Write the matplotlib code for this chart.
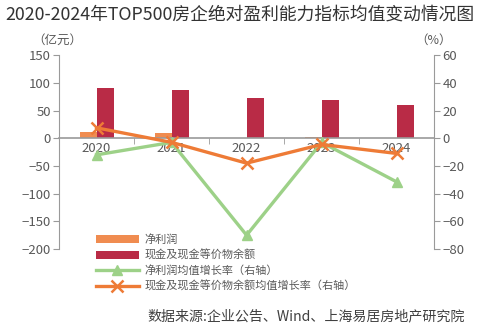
import matplotlib.pyplot as plt
from matplotlib.ticker import MultipleLocator, FixedLocator

plt.rcParams['font.family'] = ['Noto Sans CJK SC', 'DejaVu Sans']

# ===== Data =====
tahun = ["2020", "2021", "2022", "2023", "2024"]
laba_bersih = [11, 10, 1, 1.5, 0.5]              # 亿元
kas_setara = [91, 87, 72, 69, 60]                # 亿元
tumbuh_laba = [-12, -3, -70, -3, -31.5]          # %
tumbuh_kas = [7.5, -3, -18, -4.5, -11]           # %

C_LABA = "#F08C50"
C_KAS = "#B92B46"
C_G_LABA = "#9DD188"
C_G_KAS = "#EE7B36"
C_TEKS = "#595959"
C_GARIS = "#9A9A9A"

fig = plt.figure(figsize=(4.84, 3.26), dpi=100)
ax = fig.add_axes([0.122, 0.236, 0.775, 0.595])
ax2 = ax.twinx()

x = list(range(len(tahun)))
lebar = 0.227
ax.bar([i - lebar / 2 for i in x], laba_bersih, width=lebar, color=C_LABA, label="净利润", zorder=2)
ax.bar([i + lebar / 2 for i in x], kas_setara, width=lebar, color=C_KAS, label="现金及现金等价物余额", zorder=2)

ax2.plot(x, tumbuh_laba, color=C_G_LABA, lw=2.4, marker="^", ms=6.5,
         label="净利润均值增长率（右轴）", zorder=3)
ax2.plot(x, tumbuh_kas, color=C_G_KAS, lw=2.4, marker="x", ms=8, mew=1.8,
         label="现金及现金等价物余额均值增长率（右轴）", zorder=4)

# sumbu kiri dan kanan
ax.set_xlim(-0.5, 4.5)
ax.set_ylim(-200, 150)
ax.yaxis.set_major_locator(MultipleLocator(50))
ax2.set_ylim(-80, 60)
ax2.yaxis.set_major_locator(MultipleLocator(20))

for a in (ax, ax2):
    a.spines['top'].set_visible(False)
    a.set_facecolor('none')
ax.spines['right'].set_visible(False)
ax2.spines['bottom'].set_visible(False)
ax2.spines['left'].set_visible(False)
ax.spines['left'].set_color(C_GARIS)
ax2.spines['right'].set_color(C_GARIS)
ax.spines['bottom'].set_position(('data', 0))
ax.spines['bottom'].set_color(C_GARIS)
ax.spines['bottom'].set_linewidth(1.2)

ax.set_xticks(x)
ax.set_xticklabels(tahun)
ax.xaxis.set_minor_locator(FixedLocator([0.5, 1.5, 2.5, 3.5]))
ax.tick_params(axis='x', which='major', length=0, pad=3, labelsize=9.5, labelcolor=C_TEKS)
ax.tick_params(axis='x', which='minor', length=4, color=C_GARIS, direction='out')
ax.tick_params(axis='y', length=4, color=C_GARIS, labelsize=9.5, labelcolor=C_TEKS, pad=2)
ax2.tick_params(axis='y', length=4, color=C_GARIS, labelsize=9.5, labelcolor=C_TEKS, pad=2)
ax2.set_zorder(ax.get_zorder() + 1)

fig.text(0.118, 0.875, "（亿元）", ha="center", va="center", fontsize=9, color=C_TEKS)
fig.text(0.895, 0.875, "（%）", ha="center", va="center", fontsize=9, color=C_TEKS)

# legenda
h1, l1 = ax.get_legend_handles_labels()
h2, l2 = ax2.get_legend_handles_labels()
fig.legend(h1 + h2, l1 + l2, loc="upper left", bbox_to_anchor=(0.198, 0.282),
           frameon=False, fontsize=8, handlelength=3.9, handletextpad=0.45,
           labelspacing=0.42, borderpad=0, borderaxespad=0, labelcolor=C_TEKS)

fig.text(0.01, 0.955, "2020-2024年TOP500房企绝对盈利能力指标均值变动情况图",
         ha="left", va="center", fontsize=12.8, color="#333333")
fig.text(0.96, 0.03, "数据来源:企业公告、Wind、上海易居房地产研究院",
         ha="right", va="center", fontsize=10.1, color="#404040")

fig.savefig("out.png", dpi=100)
